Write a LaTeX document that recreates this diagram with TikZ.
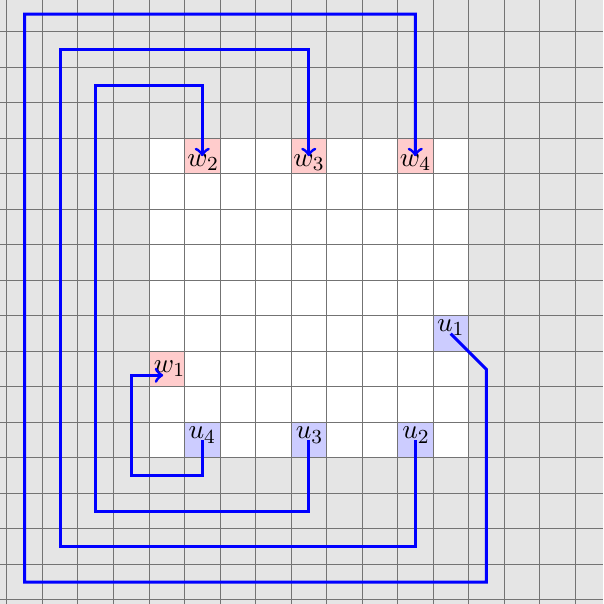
\documentclass[tikz,border=0pt]{standalone}
\begin{document}
\begin{tikzpicture}[x=0.5cm,y=0.5cm,
  gridline/.style={draw=black!55,line width=0.4pt},
  wcell/.style={fill=red!20},
  ucell/.style={fill=blue!20},
  lbl/.style={inner sep=0pt,anchor=base west,font=\fontsize{11}{13}\selectfont},
  route/.style={draw=blue,very thick,line join=miter},
  routearrow/.style={route,->}]
\useasboundingbox (-0.197,-0.113) rectangle (16.79,16.90);
% background
\fill[gray!20] (-0.197,-0.113) rectangle (16.79,16.90);
\fill[white] (4,4) rectangle (13,13);
% coloured cells
\fill[wcell] (4,6) rectangle (5,7);
\fill[wcell] (5,12) rectangle (6,13);
\fill[wcell] (8,12) rectangle (9,13);
\fill[wcell] (11,12) rectangle (12,13);
\fill[ucell] (12,7) rectangle (13,8);
\fill[ucell] (11,4) rectangle (12,5);
\fill[ucell] (8,4) rectangle (9,5);
\fill[ucell] (5,4) rectangle (6,5);
% grid
\draw[gridline,step=0.5cm] (-0.197,-0.113) grid (16.79,16.90);
% labels
\node[lbl] (lw1) at (4.12,6.41) {$w_1$};
\node[lbl] (lw2) at (5.07,12.21) {$w_2$};
\node[lbl] (lw3) at (8.05,12.22) {$w_3$};
\node[lbl] (lw4) at (11.05,12.22) {$w_4$};
\node[lbl] (lu1) at (12.10,7.56) {$u_1$};
\node[lbl] (lu2) at (11.12,4.535) {$u_2$};
\node[lbl] (lu3) at (8.12,4.535) {$u_3$};
\node[lbl] (lu4) at (5.10,4.535) {$u_4$};
% route points
\coordinate (u1) at (12.5,7.5);
\coordinate (u2) at (11.5,4.5);
\coordinate (u3) at (8.5,4.5);
\coordinate (u4) at (5.5,4.5);
\coordinate (w1) at (4.4,6.33);
\coordinate (w2) at (5.5,12.5);
\coordinate (w3) at (8.5,12.5);
\coordinate (w4) at (11.5,12.5);
% routes
\draw[routearrow] (u1) -- (13.5,6.5) -- (13.5,0.5) -- (0.5,0.5) -- (0.5,16.5) -- (11.5,16.5) -- (w4);
\draw[routearrow] (u2) -- (11.5,1.5) -- (1.5,1.5) -- (1.5,15.5) -- (8.5,15.5) -- (w3);
\draw[routearrow] (u3) -- (8.5,2.5) -- (2.5,2.5) -- (2.5,14.5) -- (5.5,14.5) -- (w2);
\draw[routearrow] (u4) -- (5.5,3.5) -- (3.5,3.5) -- (3.5,6.33) -- (w1);
\end{tikzpicture}
\end{document}
